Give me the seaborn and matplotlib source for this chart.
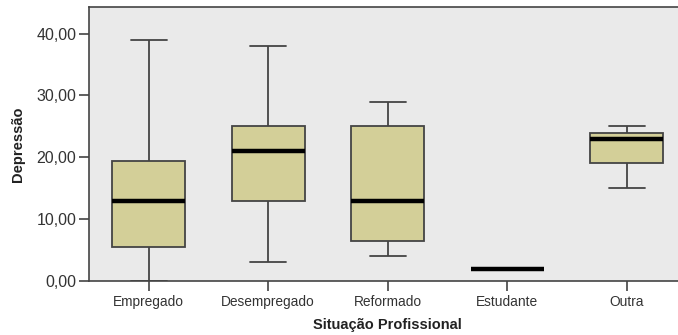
import numpy as np
import pandas as pd
import seaborn as sns
import matplotlib
matplotlib.use("Agg")
import matplotlib.pyplot as plt
from matplotlib.ticker import FuncFormatter

# Five-number summaries (min, Q1, median, Q3, max) of the depression score
categories = ["Empregado", "Desempregado", "Reformado", "Estudante", "Outra"]
minimum = [0.0, 3.0, 4.0, 2.0, 15.0]
q1 = [5.5, 13.0, 6.5, 2.0, 19.0]
median = [13.0, 21.0, 13.0, 2.0, 23.0]
q3 = [19.4, 25.0, 25.0, 2.0, 24.0]
maximum = [39.0, 38.0, 29.0, 2.0, 25.0]
y_ticks = [0, 10, 20, 30, 40]

rows = []
for i, cat in enumerate(categories):
    for v in (minimum[i], q1[i], median[i], q3[i], maximum[i]):
        rows.append({"Situação Profissional": cat, "Depressão": v})
df = pd.DataFrame(rows)

sns.set_theme(style="white")
plt.rcParams["font.family"] = ["Liberation Sans", "DejaVu Sans"]

fig = plt.figure(figsize=(6.78, 3.35), dpi=100)
ax = fig.add_axes([89 / 678, 54 / 335, 597.5 / 678, 274 / 335])
ax.set_facecolor("#EAEAEA")

edge = "#444444"
sns.boxplot(
    data=df, x="Situação Profissional", y="Depressão", order=categories,
    color="#D3CF98", saturation=1, width=0.61, whis=np.inf,
    linecolor=edge, linewidth=1.3, ax=ax,
    medianprops=dict(color="black", linewidth=3.2, solid_capstyle="butt"),
    boxprops=dict(facecolor="#D3CF98", edgecolor=edge),
    whiskerprops=dict(color=edge),
    capprops=dict(color=edge),
)

ax.set_xlim(-0.5, 4.5)
ax.set_ylim(0, 44.3)
ax.set_yticks(y_ticks)
ax.yaxis.set_major_formatter(FuncFormatter(lambda v, p: f"{v:.2f}".replace(".", ",")))

for side in ("left", "bottom", "top", "right"):
    ax.spines[side].set_color(edge)
    ax.spines[side].set_linewidth(1.2)
    ax.spines[side].set_visible(True)

ax.tick_params(axis="both", direction="out", length=7.2, width=1.2, color=edge,
               labelcolor="#333333", bottom=True, left=True)
ax.tick_params(axis="y", labelsize=11.5, pad=2)
ax.tick_params(axis="x", labelsize=9.9, pad=3)

ax.set_xlabel("Situação Profissional", fontsize=10.5, fontweight="bold", color="#222222", labelpad=6)
ax.set_ylabel("Depressão", fontsize=10.5, fontweight="bold", color="#222222", labelpad=8)

fig.savefig("out.png", dpi=100)
